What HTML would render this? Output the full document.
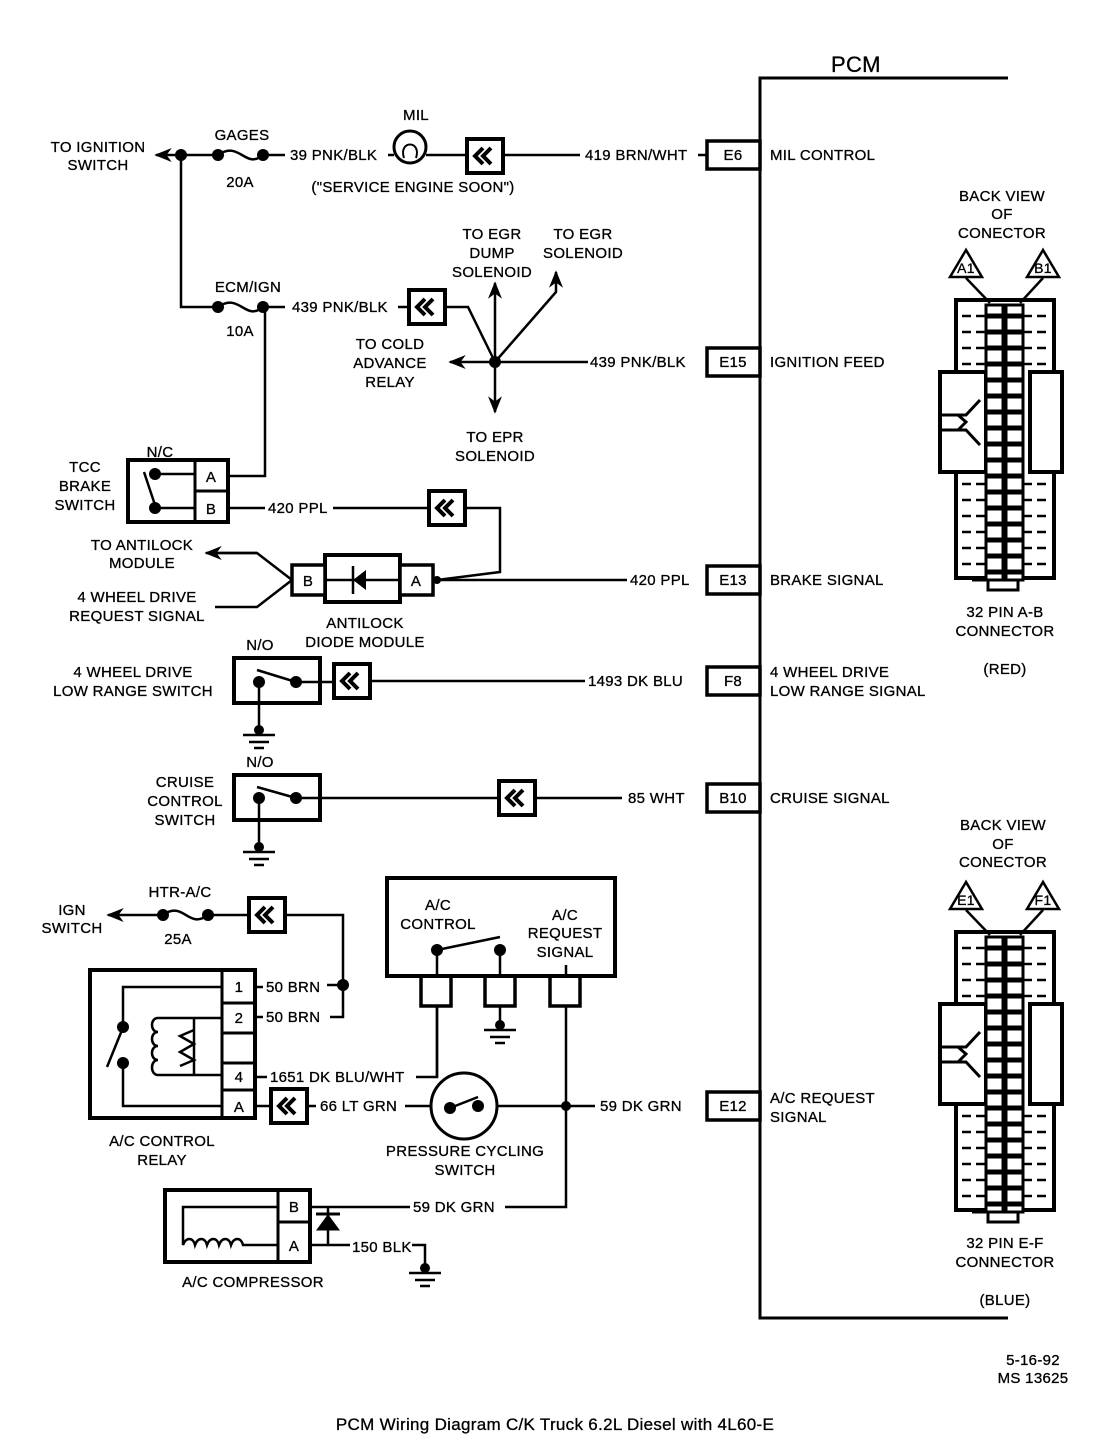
<!DOCTYPE html>
<html><head><meta charset="utf-8"><style>
html,body{margin:0;padding:0;background:#fff}
svg{display:block}
text{font-family:"Liberation Sans",sans-serif;font-size:15px;fill:#000;letter-spacing:0.3px;stroke:#000;stroke-width:0.3px}
</style></head><body>
<svg width="1104" height="1440" viewBox="0 0 1104 1440" xmlns="http://www.w3.org/2000/svg">
<defs>
<marker id="ar" viewBox="0 0 10 10" refX="9" refY="5" markerWidth="7" markerHeight="7" orient="auto"><path d="M0,1 L10,5 L0,9 L3,5z" fill="#000"/></marker>
<g id="ch"><rect x="-18" y="-17" width="36" height="34" fill="#fff" stroke="#000" stroke-width="4"/><path d="M-2,-8 L-10,0 L-2,8 M6,-8 L-2,0 L6,8" fill="none" stroke="#000" stroke-width="4"/></g>
<g id="gnd"><circle cx="0" cy="0" r="5" fill="#000"/><path d="M-16,5 H16 M-10,12 H10 M-5,18 H5" stroke="#000" stroke-width="2.5"/></g>
<g id="conn" stroke="#000" fill="none">
<rect x="956" y="300" width="98" height="278" stroke-width="4" fill="#fff"/>
<g stroke-width="2.5" stroke-dasharray="9,5">
<path d="M962,316H985M962,332H985M962,348H985M962,364H985M962,484H985M962,500H985M962,516H985M962,532H985M962,548H985M962,564H985"/>
<path d="M1023,316H1050M1023,332H1050M1023,348H1050M1023,364H1050M1023,484H1050M1023,500H1050M1023,516H1050M1023,532H1050M1023,548H1050M1023,564H1050"/>
</g>
<rect x="940" y="372" width="46" height="100" stroke-width="4" fill="#fff"/>
<rect x="1030" y="372" width="32" height="100" stroke-width="4" fill="#fff"/>
<path d="M940,415 H966 L980,400 M940,430 H966 L980,445 M958,415 L966,422 L958,430" stroke-width="3"/>
<rect x="986" y="305" width="17" height="275" stroke-width="3" fill="#fff"/>
<rect x="1006" y="305" width="17" height="275" stroke-width="3" fill="#fff"/>
<path d="M986,316H1003M986,332H1003M986,348H1003M986,364H1003M986,380H1003M986,396H1003M986,412H1003M986,428H1003M986,444H1003M986,460H1003M986,476H1003M986,492H1003M986,508H1003M986,524H1003M986,540H1003M986,556H1003M986,572H1003" stroke-width="5"/>
<path d="M1006,316H1023M1006,332H1023M1006,348H1023M1006,364H1023M1006,380H1023M1006,396H1023M1006,412H1023M1006,428H1023M1006,444H1023M1006,460H1023M1006,476H1023M1006,492H1023M1006,508H1023M1006,524H1023M1006,540H1023M1006,556H1023M1006,572H1023" stroke-width="5"/>
<path d="M972,580 H1018 V590 H988 V580" stroke-width="3" fill="#fff"/>
<path d="M966,278 L990,303 M1043,278 L1020,303" stroke-width="2.5"/>
<path d="M966,250 L950,277 H982 Z M1043,250 L1027,277 H1059 Z" stroke-width="2.5" fill="#fff"/>
</g>
</defs>
<g stroke="#000" stroke-width="2.5" fill="none">
<path d="M1008,78 H760 V1318 H1008" stroke-width="3"/>
<rect x="707" y="141" width="53" height="28" stroke-width="3.5" fill="#fff"/>
<rect x="707" y="348" width="53" height="28" stroke-width="3.5" fill="#fff"/>
<rect x="707" y="566" width="53" height="28" stroke-width="3.5" fill="#fff"/>
<rect x="707" y="667" width="53" height="28" stroke-width="3.5" fill="#fff"/>
<rect x="707" y="784" width="53" height="28" stroke-width="3.5" fill="#fff"/>
<rect x="707" y="1092" width="53" height="28" stroke-width="3.5" fill="#fff"/>
<path d="M218,155 H156" marker-end="url(#ar)"/>
<path d="M218,155 C240,140 245,170 263,155 M263,155 H285 M388,155 H394 M426,155 H580 M698,155 H707"/>
<circle cx="410" cy="147" r="16" stroke-width="3"/>
<path d="M404,158 C398,140 422,140 416,158" stroke-width="2"/>
<path d="M181,155 V307 H218 C240,292 245,322 263,307 H285 M398,307 H468 L495,362 M265,307 V476 H228"/>
<path d="M495,362 V283" marker-end="url(#ar)"/>
<path d="M495,362 L556,292 V272" marker-end="url(#ar)"/>
<path d="M495,362 H450" marker-end="url(#ar)"/>
<path d="M495,362 V412" marker-end="url(#ar)"/>
<path d="M495,362 H588"/>
<rect x="128" y="460" width="100" height="62" stroke-width="4"/>
<path d="M195,460 V522 M195,491 H228" stroke-width="3"/>
<path d="M155,474 H195 M155,508 H195 M144,472 L155,505"/>
<path d="M228,508 H265 M333,508 H500 V572 L437,580"/>
<rect x="325" y="555" width="75" height="47" stroke-width="4" fill="#fff"/>
<rect x="292" y="565" width="33" height="30" stroke-width="3.5" fill="#fff"/>
<rect x="400" y="565" width="33" height="30" stroke-width="3.5" fill="#fff"/>
<path d="M325,580 H400 M353,566 V594" stroke-width="2.5"/>
<path d="M433,580 H627 M292,580 L257,553 H210" />
<path d="M257,553 H206" marker-end="url(#ar)"/>
<path d="M292,580 L257,607 H215"/>
<rect x="234" y="658" width="86" height="45" stroke-width="4"/>
<path d="M257,670 L296,682 M296,682 H334 M370,681 H585 M259,682 V730"/>
<rect x="234" y="775" width="86" height="45" stroke-width="4"/>
<path d="M257,787 L296,798 M296,798 H497 M537,798 H622 M259,798 V847"/>
<path d="M163,915 H108" marker-end="url(#ar)"/>
<path d="M163,915 C184,900 188,930 208,915 H247 M287,915 H343 V1017 H330 M343,985 H327 M255,987 H263 M255,1017 H263 M255,1077 H267 M416,1077 H437 V1005"/>
<rect x="90" y="970" width="165" height="148" stroke-width="4"/>
<path d="M222,970 V1118 M222,1003 H255 M222,1033 H255 M222,1063 H255 M222,1090 H255" stroke-width="3"/>
<path d="M222,987 H123 V1027 M123,1063 V1106 H222 M107,1067 L122,1030 M158,1075 H222 M158,1018 H222 M194,1075 V1018"/>
<path d="M158,1018 c-8,0 -8,14 0,14 c-8,0 -8,14 0,14 c-8,0 -8,14 0,14 c-8,0 -8,15 0,15" />
<path d="M194,1030 l-14,6 l14,8 l-14,8 l14,8 l-14,6" />
<path d="M255,1106 H270 M308,1106 H316 M405,1106 H432 M497,1106 H595"/>
<circle cx="464" cy="1106" r="33" stroke-width="3"/>
<path d="M450,1108 L478,1097"/>
<rect x="387" y="878" width="228" height="98" stroke-width="4"/>
<rect x="421" y="976" width="30" height="30" stroke-width="3.5"/>
<rect x="485" y="976" width="30" height="30" stroke-width="3.5"/>
<rect x="550" y="976" width="30" height="30" stroke-width="3.5"/>
<path d="M437,950 V976 M437,950 L500,937 M500,950 V976 M500,1006 V1025 M437,1006 V1077 M566,965 V976 M566,1006 V1207 H505 M410,1207 H310"/>
<rect x="165" y="1190" width="145" height="72" stroke-width="4"/>
<path d="M278,1190 V1262 M278,1222 H310" stroke-width="3"/>
<path d="M278,1207 H183 V1245 c3,-8 10,-8 12,0 c3,-8 10,-8 12,0 c3,-8 10,-8 12,0 c3,-8 10,-8 12,0 c3,-8 10,-8 12,0 H278"/>
<path d="M328,1207 V1245 M310,1245 H350 M412,1245 H425 V1268"/>
<path d="M317,1230 H339 L328,1215 Z" fill="#000" stroke-width="1"/>
<path d="M316,1214 H340" stroke-width="3"/>
</g>
<g fill="#000">
<circle cx="181" cy="155" r="6"/><circle cx="218" cy="155" r="6"/><circle cx="263" cy="155" r="6"/>
<circle cx="218" cy="307" r="6"/><circle cx="263" cy="307" r="6"/>
<circle cx="495" cy="362" r="6"/>
<circle cx="155" cy="474" r="6"/><circle cx="155" cy="508" r="6"/>
<circle cx="259" cy="682" r="6"/><circle cx="296" cy="682" r="6"/>
<circle cx="259" cy="798" r="6"/><circle cx="296" cy="798" r="6"/>
<circle cx="163" cy="915" r="6"/><circle cx="208" cy="915" r="6"/>
<circle cx="343" cy="985" r="6"/>
<circle cx="123" cy="1027" r="6"/><circle cx="123" cy="1063" r="6"/>
<circle cx="450" cy="1108" r="6"/><circle cx="478" cy="1106" r="6"/>
<circle cx="437" cy="950" r="6"/><circle cx="500" cy="950" r="6"/>
<circle cx="566" cy="1106" r="5"/>
<circle cx="437" cy="580" r="4"/>
<path d="M353,580 L366,570 V590 Z"/>
</g>
<use href="#ch" x="485" y="156"/>
<use href="#ch" x="427" y="307"/>
<use href="#ch" x="447" y="508"/>
<use href="#ch" x="352" y="681"/>
<use href="#ch" x="517" y="798"/>
<use href="#ch" x="267" y="915"/>
<use href="#ch" x="289" y="1106"/>
<use href="#gnd" x="259" y="730"/>
<use href="#gnd" x="259" y="847"/>
<use href="#gnd" x="500" y="1025"/>
<use href="#gnd" x="425" y="1268"/>
<use href="#conn"/>
<use href="#conn" y="632"/>
<text x="831" y="72" style="font-size:22px">PCM</text>
<g text-anchor="middle">
<text x="98" y="152">TO IGNITION</text><text x="98" y="170">SWITCH</text>
<text x="242" y="140">GAGES</text><text x="240" y="187">20A</text>
<text x="416" y="120">MIL</text>
<text x="413" y="192">("SERVICE ENGINE SOON")</text>
<text x="248" y="292">ECM/IGN</text><text x="240" y="336">10A</text>
<text x="492" y="239">TO EGR</text><text x="492" y="258">DUMP</text><text x="492" y="277">SOLENOID</text>
<text x="583" y="239">TO EGR</text><text x="583" y="258">SOLENOID</text>
<text x="390" y="349">TO COLD</text><text x="390" y="368">ADVANCE</text><text x="390" y="387">RELAY</text>
<text x="495" y="442">TO EPR</text><text x="495" y="461">SOLENOID</text>
<text x="160" y="457">N/C</text>
<text x="85" y="472">TCC</text><text x="85" y="491">BRAKE</text><text x="85" y="510">SWITCH</text>
<text x="142" y="550">TO ANTILOCK</text><text x="142" y="568">MODULE</text>
<text x="137" y="602">4 WHEEL DRIVE</text><text x="137" y="621">REQUEST SIGNAL</text>
<text x="365" y="628">ANTILOCK</text><text x="365" y="647">DIODE MODULE</text>
<text x="260" y="650">N/O</text>
<text x="133" y="677">4 WHEEL DRIVE</text><text x="133" y="696">LOW RANGE SWITCH</text>
<text x="260" y="767">N/O</text>
<text x="185" y="787">CRUISE</text><text x="185" y="806">CONTROL</text><text x="185" y="825">SWITCH</text>
<text x="72" y="915">IGN</text><text x="72" y="933">SWITCH</text>
<text x="180" y="897">HTR-A/C</text><text x="178" y="944">25A</text>
<text x="438" y="910">A/C</text><text x="438" y="929">CONTROL</text>
<text x="565" y="920">A/C</text><text x="565" y="938">REQUEST</text><text x="565" y="957">SIGNAL</text>
<text x="239" y="992">1</text><text x="239" y="1023">2</text><text x="239" y="1082">4</text><text x="239" y="1112">A</text>
<text x="162" y="1146">A/C CONTROL</text><text x="162" y="1165">RELAY</text>
<text x="465" y="1156">PRESSURE CYCLING</text><text x="465" y="1175">SWITCH</text>
<text x="294" y="1212">B</text><text x="294" y="1251">A</text>
<text x="253" y="1287">A/C COMPRESSOR</text>
<text x="211" y="482">A</text><text x="211" y="514">B</text>
<text x="308" y="586">B</text><text x="416" y="586">A</text>
<text x="733" y="160">E6</text><text x="733" y="367">E15</text><text x="733" y="585">E13</text>
<text x="733" y="686">F8</text><text x="733" y="803">B10</text><text x="733" y="1111">E12</text>
<text x="1002" y="201">BACK VIEW</text><text x="1002" y="219">OF</text><text x="1002" y="238">CONECTOR</text>
<text x="966" y="273" style="font-size:14px">A1</text><text x="1043" y="273" style="font-size:14px">B1</text>
<text x="1005" y="617">32 PIN A-B</text><text x="1005" y="636">CONNECTOR</text><text x="1005" y="674">(RED)</text>
<text x="1003" y="830">BACK VIEW</text><text x="1003" y="849">OF</text><text x="1003" y="867">CONECTOR</text>
<text x="966" y="905" style="font-size:14px">E1</text><text x="1043" y="905" style="font-size:14px">F1</text>
<text x="1005" y="1248">32 PIN E-F</text><text x="1005" y="1267">CONNECTOR</text><text x="1005" y="1305">(BLUE)</text>
<text x="1033" y="1365">5-16-92</text><text x="1033" y="1383">MS 13625</text>
<text x="555" y="1430" style="font-size:17px">PCM Wiring Diagram C/K Truck 6.2L Diesel with 4L60-E</text>
</g>
<g>
<text x="290" y="160">39 PNK/BLK</text>
<text x="585" y="160">419 BRN/WHT</text>
<text x="292" y="312">439 PNK/BLK</text>
<text x="590" y="367">439 PNK/BLK</text>
<text x="268" y="513">420 PPL</text>
<text x="630" y="585">420 PPL</text>
<text x="588" y="686">1493 DK BLU</text>
<text x="628" y="803">85 WHT</text>
<text x="266" y="992">50 BRN</text>
<text x="266" y="1022">50 BRN</text>
<text x="270" y="1082">1651 DK BLU/WHT</text>
<text x="320" y="1111">66 LT GRN</text>
<text x="600" y="1111">59 DK GRN</text>
<text x="413" y="1212">59 DK GRN</text>
<text x="352" y="1252">150 BLK</text>
<text x="770" y="160">MIL CONTROL</text>
<text x="770" y="367">IGNITION FEED</text>
<text x="770" y="585">BRAKE SIGNAL</text>
<text x="770" y="677">4 WHEEL DRIVE</text><text x="770" y="696">LOW RANGE SIGNAL</text>
<text x="770" y="803">CRUISE SIGNAL</text>
<text x="770" y="1103">A/C REQUEST</text><text x="770" y="1122">SIGNAL</text>
</g>
</svg>
</body></html>
